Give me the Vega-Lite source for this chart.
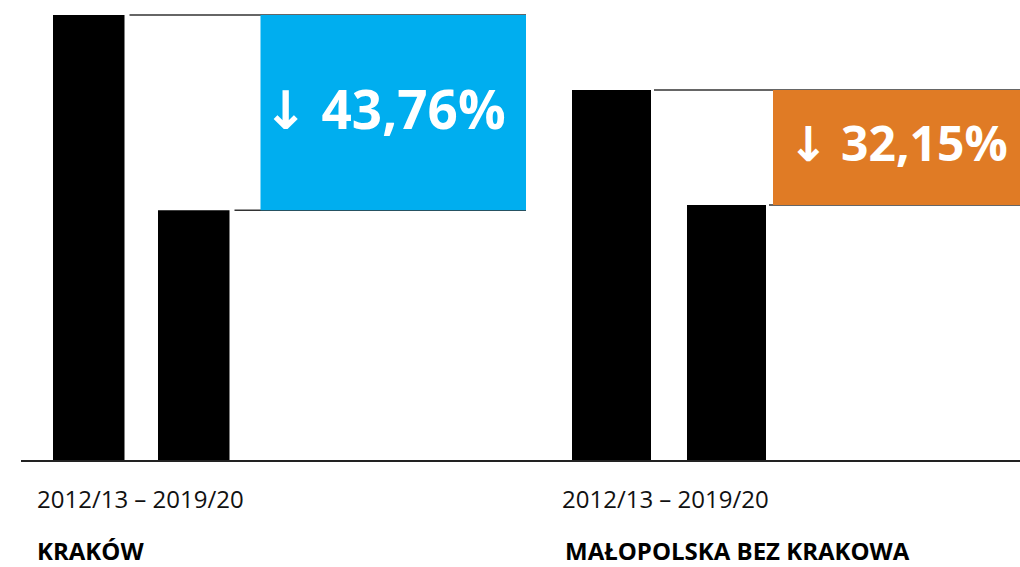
{
  "$schema": "https://vega.github.io/schema/vega-lite/v6.json",
  "background": "white",
  "padding": {"left": 20, "top": 14, "right": 0, "bottom": 10},
  "spacing": 0,
  "bounds": "flush",
  "config": {"view": {"stroke": null}, "font": "Open Sans, DejaVu Sans"},
  "datasets": {
    "bars": [
      {"region": "KRAKÓW", "period": "2012/13", "value": 100},
      {"region": "KRAKÓW", "period": "2019/20", "value": 56.24},
      {"region": "MAŁOPOLSKA BEZ KRAKOWA", "period": "2012/13", "value": 83.2},
      {"region": "MAŁOPOLSKA BEZ KRAKOWA", "period": "2019/20", "value": 57.4}
    ],
    "changes": [
      {"region": "KRAKÓW", "change": "↓ 43,76%"},
      {"region": "MAŁOPOLSKA BEZ KRAKOWA", "change": "↓ 32,15%"}
    ]
  },
  "resolve": {"scale": {"x": "independent", "y": "shared", "color": "shared"}},
  "hconcat": [
    {
      "width": 505,
      "height": 446,
      "data": {"name": "bars"},
      "transform": [{"filter": "datum.region === 'KRAKÓW'"}],
      "layer": [
        {
          "mark": {"type": "rule", "color": "#333333", "strokeWidth": 1.5, "xOffset": 5},
          "encoding": {
            "x": {"field": "period", "type": "nominal", "bandPosition": 1, "axis": null,
                  "scale": {"domain": ["2012/13", "2019/20"], "range": [32, 208.5], "paddingInner": 0.319, "paddingOuter": 0, "round": false}},
            "x2": {"value": "width"},
            "y": {"field": "value", "type": "quantitative", "axis": null, "scale": {"domain": [0, 100], "nice": false, "zero": true}}
          }
        },
        {
          "mark": {"type": "bar", "color": "#000000"},
          "encoding": {
            "x": {"field": "period", "type": "nominal", "axis": null},
            "y": {"field": "value", "type": "quantitative", "axis": null}
          }
        },
        {
          "transform": [
            {"aggregate": [{"op": "max", "field": "value", "as": "start"}, {"op": "min", "field": "value", "as": "end"}, {"op": "mean", "field": "value", "as": "mid"}], "groupby": ["region"]},
            {"lookup": "region", "from": {"data": {"name": "changes"}, "key": "region", "fields": ["change"]}}
          ],
          "layer": [
            {
              "mark": {"type": "rect", "xOffset": 31},
              "encoding": {
                "x": {"datum": "2019/20", "bandPosition": 1},
                "x2": {"value": "width"},
                "y": {"field": "start", "type": "quantitative"},
                "y2": {"field": "end"},
                "color": {"field": "region", "type": "nominal", "legend": null,
                          "scale": {"domain": ["KRAKÓW", "MAŁOPOLSKA BEZ KRAKOWA"], "range": ["#00aeef", "#e07b25"]}}
              }
            },
            {
              "mark": {"type": "text", "color": "white", "fontWeight": "bold", "fontSize": 53, "align": "center", "baseline": "middle", "dx": 155},
              "encoding": {
                "x": {"datum": "2019/20", "bandPosition": 1},
                "y": {"field": "mid", "type": "quantitative"},
                "text": {"field": "change"}
              }
            }
          ]
        },
        {
          "mark": {"type": "rule", "color": "#222222", "strokeWidth": 2},
          "encoding": {"y": {"datum": 0, "type": "quantitative"}}
        },
        {
          "transform": [{"filter": "datum.period === '2012/13'"}],
          "layer": [
            {
              "mark": {"type": "text", "align": "left", "baseline": "middle", "fontSize": 24, "color": "#111111", "dx": -16, "dy": 40},
              "encoding": {
                "x": {"field": "period", "type": "nominal", "bandPosition": 0},
                "y": {"datum": 0, "type": "quantitative"},
                "text": {"value": "2012/13 – 2019/20"}
              }
            },
            {
              "mark": {"type": "text", "align": "left", "baseline": "middle", "fontSize": 24, "fontWeight": "bold", "color": "#000000", "dx": -16, "dy": 92},
              "encoding": {
                "x": {"field": "period", "type": "nominal", "bandPosition": 0},
                "y": {"datum": 0, "type": "quantitative"},
                "text": {"field": "region"}
              }
            }
          ]
        }
      ]
    },
    {
      "width": 495,
      "height": 446,
      "data": {"name": "bars"},
      "transform": [{"filter": "datum.region === 'MAŁOPOLSKA BEZ KRAKOWA'"}],
      "layer": [
        {
          "mark": {"type": "rule", "color": "#333333", "strokeWidth": 1.5, "xOffset": 3},
          "encoding": {
            "x": {"field": "period", "type": "nominal", "bandPosition": 1, "axis": null,
                  "scale": {"domain": ["2012/13", "2019/20"], "range": [46, 240], "paddingInner": 0.313, "paddingOuter": 0, "round": false}},
            "x2": {"value": "width"},
            "y": {"field": "value", "type": "quantitative", "axis": null, "scale": {"domain": [0, 100], "nice": false, "zero": true}}
          }
        },
        {
          "mark": {"type": "bar", "color": "#000000"},
          "encoding": {
            "x": {"field": "period", "type": "nominal", "axis": null},
            "y": {"field": "value", "type": "quantitative", "axis": null}
          }
        },
        {
          "transform": [
            {"aggregate": [{"op": "max", "field": "value", "as": "start"}, {"op": "min", "field": "value", "as": "end"}, {"op": "mean", "field": "value", "as": "mid"}], "groupby": ["region"]},
            {"lookup": "region", "from": {"data": {"name": "changes"}, "key": "region", "fields": ["change"]}}
          ],
          "layer": [
            {
              "mark": {"type": "rect", "xOffset": 7},
              "encoding": {
                "x": {"datum": "2019/20", "bandPosition": 1},
                "x2": {"value": "width"},
                "y": {"field": "start", "type": "quantitative"},
                "y2": {"field": "end"},
                "color": {"field": "region", "type": "nominal", "legend": null}
              }
            },
            {
              "mark": {"type": "text", "color": "white", "fontWeight": "bold", "fontSize": 48, "align": "center", "baseline": "middle", "dx": 132},
              "encoding": {
                "x": {"datum": "2019/20", "bandPosition": 1},
                "y": {"field": "mid", "type": "quantitative"},
                "text": {"field": "change"}
              }
            }
          ]
        },
        {
          "mark": {"type": "rule", "color": "#222222", "strokeWidth": 2},
          "encoding": {"y": {"datum": 0, "type": "quantitative"}}
        },
        {
          "transform": [{"filter": "datum.period === '2012/13'"}],
          "layer": [
            {
              "mark": {"type": "text", "align": "left", "baseline": "middle", "fontSize": 24, "color": "#111111", "dx": -10, "dy": 40},
              "encoding": {
                "x": {"field": "period", "type": "nominal", "bandPosition": 0},
                "y": {"datum": 0, "type": "quantitative"},
                "text": {"value": "2012/13 – 2019/20"}
              }
            },
            {
              "mark": {"type": "text", "align": "left", "baseline": "middle", "fontSize": 24, "fontWeight": "bold", "color": "#000000", "dx": -7, "dy": 92},
              "encoding": {
                "x": {"field": "period", "type": "nominal", "bandPosition": 0},
                "y": {"datum": 0, "type": "quantitative"},
                "text": {"field": "region"}
              }
            }
          ]
        }
      ]
    }
  ]
}
